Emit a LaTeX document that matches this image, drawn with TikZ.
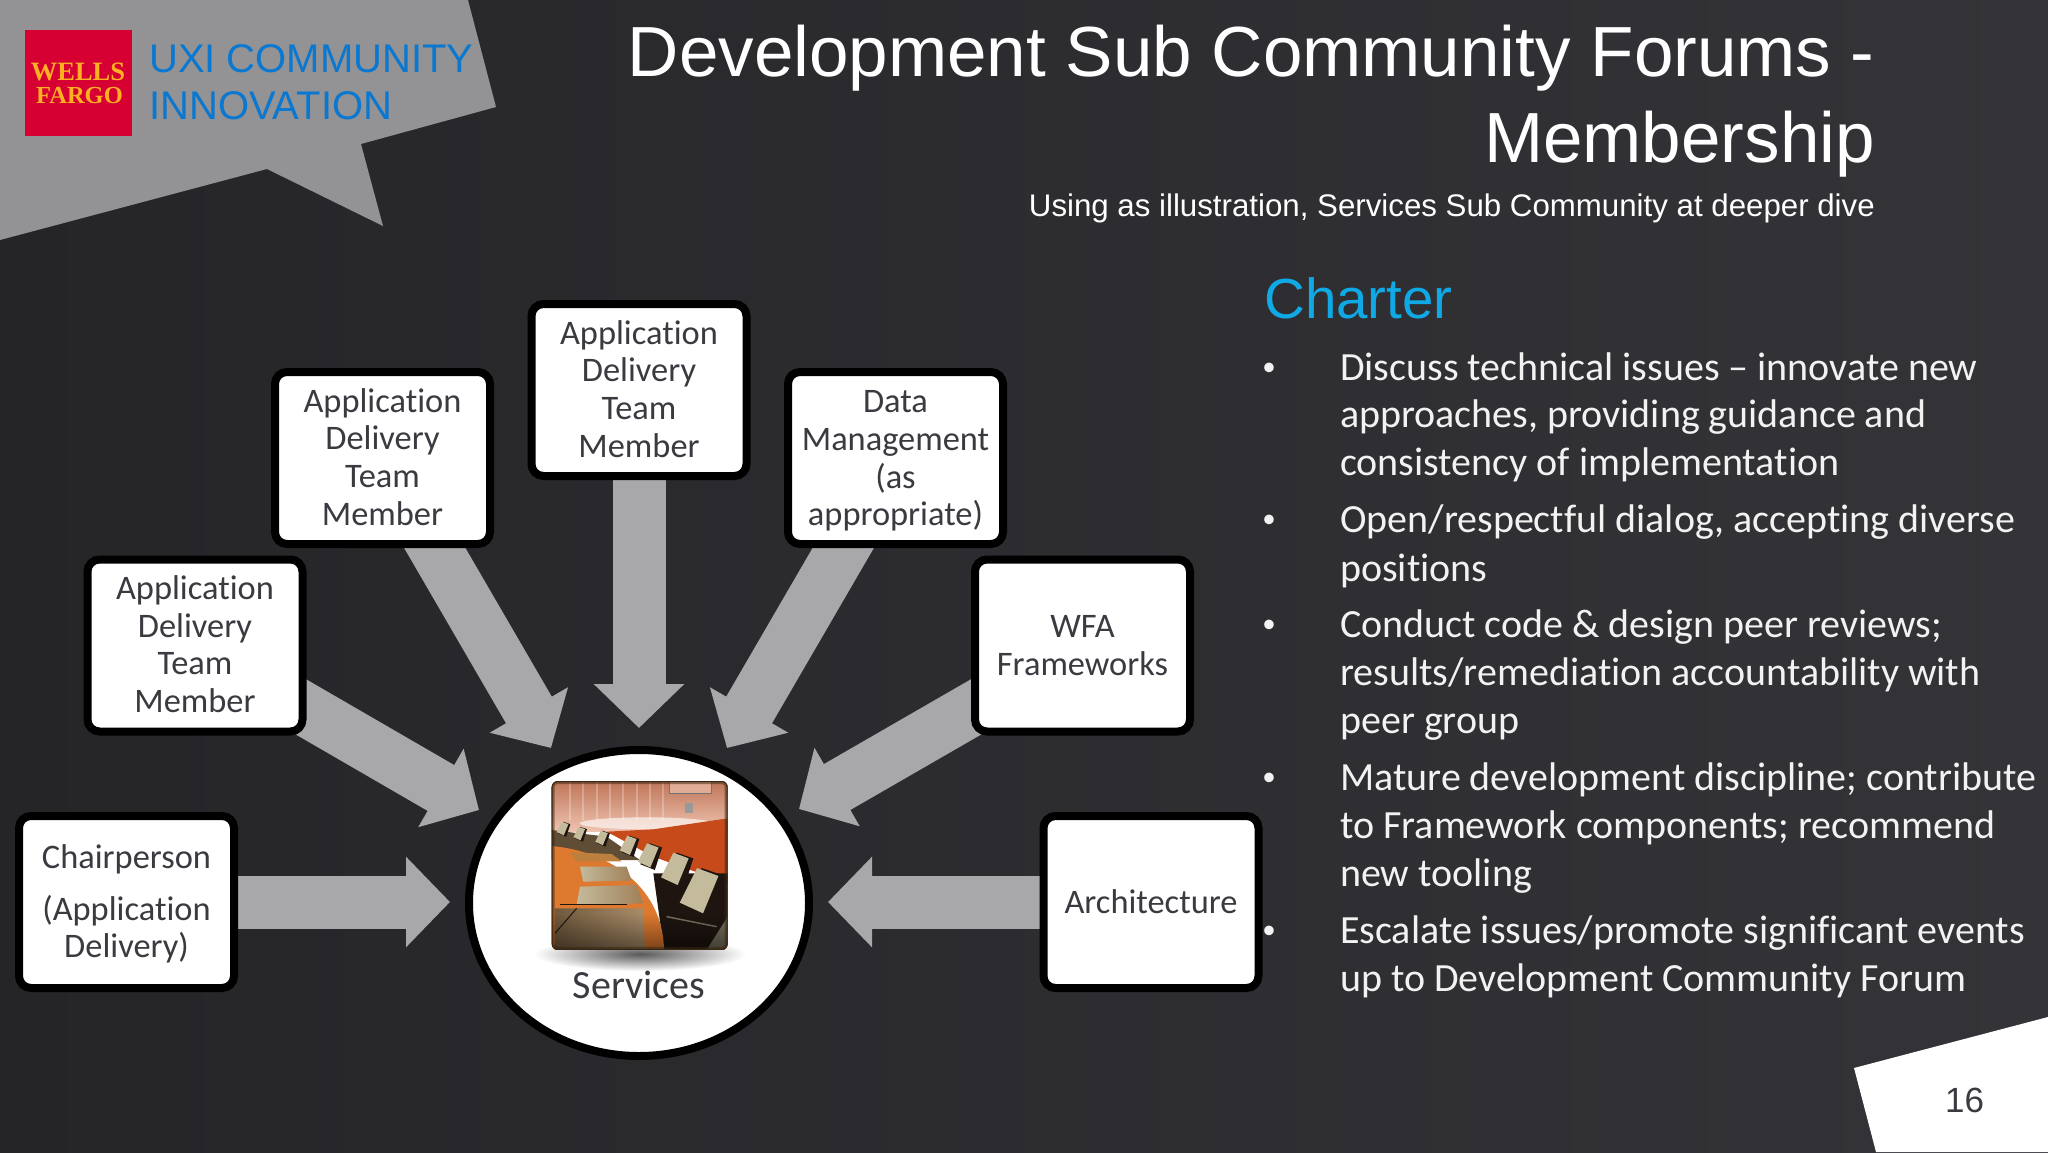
\documentclass[tikz,border=0pt]{standalone}
\usepackage{fontspec}
\usepackage{xcolor}
\usetikzlibrary{arrows.meta,shapes.geometric,fadings}
\setmainfont{Carlito}[Ligatures=NoCommon]
\newfontfamily\arialfont{Liberation Sans}
\newfontfamily\logofont{Liberation Serif}

\definecolor{slidedark}{HTML}{252427}
\definecolor{slidelight}{HTML}{343337}
\definecolor{calloutgray}{HTML}{939395}
\definecolor{arrowgray}{HTML}{A8A7AA}
\definecolor{boxtext}{HTML}{3B3A40}
\definecolor{logored}{HTML}{D60032}
\definecolor{logoyellow}{HTML}{FDB022}
\definecolor{innoblue}{HTML}{0A78D0}
\definecolor{charterblue}{HTML}{0FA9E6}
\definecolor{chairdark}{HTML}{1E1510}
\definecolor{chaircream}{HTML}{C4BA9C}
\definecolor{tabletan}{HTML}{A08058}
\definecolor{tableorange}{HTML}{DE7A30}
\definecolor{wallorange}{HTML}{C64A1A}
\definecolor{wallpeach}{HTML}{EFC4B0}
\definecolor{walldusk}{HTML}{BE7558}

\pgfdeclarelayer{under}
\pgfsetlayers{under,main}

\newcommand{\liftline}[1]{\rule[-#1]{0pt}{0pt}}

\tikzset{
	memberbox/.style={draw=black, fill=white, line width=8pt, rounded corners=12pt, minimum width=215pt, minimum height=172pt, inner sep=0pt, align=center, text=boxtext, font=\fontsize{34.4}{37.6}\selectfont},
	hubcircle/.style={draw=black, fill=white, line width=8pt, ellipse, minimum width=340pt, minimum height=306pt, inner sep=0pt},
	blockarrow/.style={draw=arrowgray, line width=53pt, -{Triangle[width=88pt,length=44pt]}},
	titleline/.style={anchor=base east, inner sep=0pt, text=white, font=\arialfont\fontsize{71}{86}\selectfont},
	logoline/.style={anchor=base, inner sep=0pt, text=logoyellow, font=\logofont\bfseries\fontsize{#1}{#1}\selectfont},
	innoline/.style={anchor=base west, inner sep=0pt, text=innoblue, font=\arialfont\fontsize{40}{48}\selectfont},
	charterline/.style={anchor=base west, inner sep=0pt, text=white!95!black, font=\fontsize{40}{48}\selectfont},
}

\begin{document}
\begin{tikzpicture}[x=1pt,y=-1pt]
	\useasboundingbox (0,0) rectangle (2048,1152);

	\begin{pgfonlayer}{under}
		\shade[left color=slidedark, right color=slidelight] (0,0) rectangle (2048,1152);
		\fill[calloutgray] (0,0) -- (468,0) -- (496,107) -- (361,144) -- (383,226) -- (267,169) -- (0,240) -- cycle;
		\fill[white] (1854,1068) -- (2048,1017) -- (2048,1152) -- (1876,1152) -- cycle;
	\end{pgfonlayer}

	\node[fill=logored, minimum width=107pt, minimum height=106pt, inner sep=0pt] (logo) at (78.5,83) {};
	\node[logoline=26.5] (wells) at (78,80) {WELLS};
	\node[logoline=24.5] (fargo) at (79.5,103) {FARGO};
	\node[innoline] (uxi) at (149,72) {UXI COMMUNITY};
	\node[innoline] (inno) at (149,119.5) {INNOVATION};

	\node[titleline] (title1) at (1875,76) {Development Sub Community Forums -};
	\node[titleline] (title2) at (1875,162) {Membership};
	\node[titleline, font=\arialfont\fontsize{31.25}{38}\selectfont] (subtitle) at (1875,216) {Using as illustration, Services Sub Community at deeper dive};

	\node[memberbox] (chair) at (126.5,902) {\rule{0pt}{28pt}Chairperson\\[14pt](Application\\Delivery)};
	\node[memberbox] (app1) at (195,645.5) {Application\\Delivery\\Team\\Member\liftline{2.6pt}};
	\node[memberbox] (app2) at (382.5,458) {Application\\Delivery\\Team\\Member\liftline{2.6pt}};
	\node[memberbox] (app3) at (639,390) {Application\\Delivery\\Team\\Member\liftline{2.6pt}};
	\node[memberbox] (data) at (895.5,458) {\rule{0pt}{28pt}Data\\Management\\(as\\appropriate)};
	\node[memberbox] (wfa) at (1082.5,645.5) {WFA\\Frameworks};
	\node[memberbox] (arch) at (1151,902) {Architecture};
	\node[hubcircle] (hub) at (639,903) {};

	\coordinate (tipchair) at (450,902);
	\coordinate (tipapp1) at (479,810);
	\coordinate (tipapp2) at (551,748);
	\coordinate (tipapp3) at (639,728);
	\coordinate (tipdata) at (727,748);
	\coordinate (tipwfa) at (799,809);
	\coordinate (tiparch) at (828,902);

	\begin{pgfonlayer}{under}
		\foreach \from/\tip in {chair/tipchair, app1/tipapp1, app2/tipapp2, app3/tipapp3, data/tipdata, wfa/tipwfa, arch/tiparch}
			\draw[blockarrow] (\from.center) -- (\tip);
	\end{pgfonlayer}

	\shade[inner color=black!65, outer color=white] (640,954) ellipse (106 and 17);

	\begin{scope}[shift={(440,740)},scale=0.3333]
		\clip[rounded corners=6pt] (335,123) rectangle (863,630);
		\shade[top color=walldusk, bottom color=wallpeach] (335,123) rectangle (863,275);
		\foreach \xs in {390,430,470,510,550,590,630,670}
			\draw[white, opacity=0.25, line width=2pt] (\xs,123) -- (\xs,240);
		\draw[black!55, fill=wallpeach!70!walldusk, line width=1pt] (690,110) rectangle (815,160);
		\fill[black!40] (735,190) rectangle (760,220);
		\fill[white, opacity=0.6] (620,250) ellipse (200 and 18);
		\fill[wallorange] (500,275) -- (640,268) -- (863,235) -- (863,430) -- (640,350) -- cycle;
		\fill[chairdark] (640,400) -- (863,400) -- (863,630) -- (672,630) -- cycle;
		\fill[tabletan!60!black] (335,270) -- (500,290) -- (600,360) -- (335,360) -- cycle;
		\fill[tableorange] (335,318) .. controls (520,335) and (670,450) .. (672,630) -- (335,630) -- cycle;
		\fill[tabletan!70!orange] (390,337) -- (515,342) -- (545,364) -- (410,364) -- cycle;
		\shade[left color=chaircream, right color=tabletan] (420,380) -- (560,380) -- (575,422) -- (430,425) -- cycle;
		\shade[left color=chaircream, right color=tabletan] (420,440) -- (590,435) -- (610,490) -- (410,495) -- cycle;
		\shade[left color=tabletan!70!black, right color=tabletan!90!white] (345,505) -- (610,505) -- (615,630) -- (345,630) -- cycle;
		\draw[chairdark, line width=1pt] (360,494) -- (560,494);
		\draw[chairdark, line width=1pt] (345,580) -- (410,505);
		\foreach \cx/\cy/\sz in {368/265/0.42, 418/280/0.42, 485/293/0.45, 565/315/0.6, 625/345/0.75, 705/385/1, 778/450/1.4}
		{
			\fill[chairdark] ({\cx-42*\sz+10*\sz},{\cy+27*\sz+10*\sz}) -- ({\cx-5*\sz+10*\sz},{\cy-47*\sz}) -- ({\cx+41*\sz+14*\sz},{\cy-30*\sz}) -- ({\cx+8*\sz+18*\sz},{\cy+50*\sz+10*\sz}) -- cycle;
			\fill[chaircream] ({\cx-42*\sz},{\cy+27*\sz}) -- ({\cx-5*\sz},{\cy-47*\sz}) -- ({\cx+41*\sz},{\cy-30*\sz}) -- ({\cx+8*\sz},{\cy+50*\sz}) -- cycle;
		}
		\draw[chaircream!60!black, line width=1.5pt] (680,530) -- (830,560);
		\fill[chaircream!60!black] (800,630) -- (863,530) -- (863,630) -- cycle;
		\fill[black, opacity=0.45, path fading=north] (335,520) rectangle (863,630);
		\draw[black!70!brown, opacity=0.5, line width=6pt, rounded corners=6pt] (335,123) rectangle (863,630);
		\draw[black!70!brown, line width=2pt, rounded corners=6pt] (335,123) rectangle (863,630);
	\end{scope}

	\node[anchor=base, inner sep=0pt, text=boxtext, font=\fontsize{40}{44}\selectfont] (services) at (639,998) {Services};

	\node[anchor=base west, inner sep=0pt, text=charterblue, font=\arialfont\fontsize{56.5}{60}\selectfont] (charter) at (1264,318) {Charter};

	\foreach \yy/\txt in {380/{Discuss technical issues -- innovate new}, 427/{approaches, providing guidance and}, 475/{consistency of implementation}, 532/{Open/respectful dialog, accepting diverse}, 581/{positions}, 637/{Conduct code \& design peer reviews;}, 685/{results/remediation accountability with}, 733/{peer group}, 790/{Mature development discipline; contribute}, 838/{to Framework components; recommend}, 886/{new tooling}, 943/{Escalate issues/promote significant events}, 991/{up to Development Community Forum}}
		\node[charterline] (line\yy) at (1340,\yy) {\txt};

	\foreach \yy in {379,531,636,789,942}
		\node[charterline, anchor=base, font=\fontsize{27}{30}\selectfont] (dot\yy) at (1269,\yy-4) {\textbullet};

	\node[anchor=base, inner sep=0pt, text=boxtext, font=\arialfont\fontsize{35}{40}\selectfont] (pagenum) at (1964.5,1112) {16};
\end{tikzpicture}
\end{document}
